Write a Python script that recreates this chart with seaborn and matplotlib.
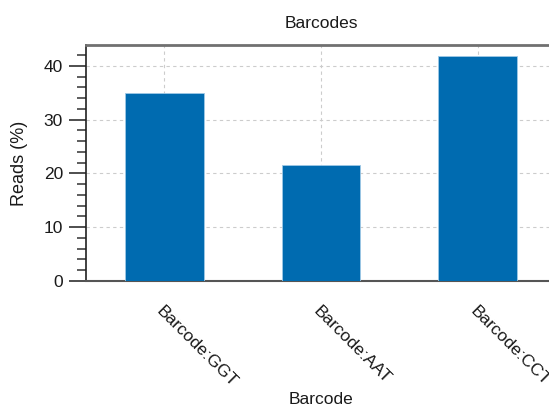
import pandas as pd
import matplotlib.pyplot as plt
import seaborn as sns
from matplotlib.ticker import MultipleLocator

barcodes = ["Barcode:GGT", "Barcode:AAT", "Barcode:CCT"]
reads_pct = [35.0, 21.6, 41.9]

df = pd.DataFrame({"Barcode": barcodes, "Reads (%)": reads_pct})

sns.set_style("white")
plt.rcParams["font.family"] = ["Liberation Sans", "DejaVu Sans"]
plt.rcParams["text.color"] = "#1a1a1a"
plt.rcParams["axes.labelcolor"] = "#1a1a1a"
plt.rcParams["xtick.labelcolor"] = "#1a1a1a"
plt.rcParams["ytick.labelcolor"] = "#1a1a1a"

fig = plt.figure(figsize=(5.49, 4.08), dpi=100)
# axes runs past the right edge of the figure, like the reference
ax = fig.add_axes([86 / 549, 1 - 281 / 408, 470 / 549, 236 / 408])

sns.barplot(data=df, x="Barcode", y="Reads (%)", color="#006bb0", width=0.5,
            saturation=1, edgecolor="#9fc9e6", linewidth=0.6, ax=ax, zorder=3)

ax.set_xlim(-0.5, 2.5)
ax.set_ylim(0, 43.9)
ax.yaxis.set_major_locator(MultipleLocator(10))
ax.yaxis.set_minor_locator(MultipleLocator(2))
ax.grid(True, which="major", linestyle=(0, (3, 3)), color="#cccccc", linewidth=0.8, zorder=0)
ax.set_axisbelow(True)

ax.tick_params(axis="y", which="major", length=12.5, width=1.3, color="#404040",
               left=True, labelsize=12.5, pad=4)
ax.tick_params(axis="y", which="minor", length=6.5, width=1.3, color="#505050", left=True)
ax.tick_params(axis="x", length=0, labelsize=12.5, pad=16)

for lbl in ax.get_xticklabels():
    lbl.set_rotation(-45)
    lbl.set_ha("left")
    lbl.set_va("top")
    lbl.set_rotation_mode("anchor")

for side in ["top", "bottom", "left", "right"]:
    ax.spines[side].set_visible(True)
ax.spines["left"].set_color("#202020")
ax.spines["left"].set_linewidth(1.2)
ax.spines["bottom"].set_color("#555555")
ax.spines["bottom"].set_linewidth(1.5)
ax.spines["top"].set_color("#707070")
ax.spines["top"].set_linewidth(2)

ax.set_title("Barcodes", fontsize=12.5, pad=12)
ax.set_xlabel("Barcode", fontsize=12.5, labelpad=2)
ax.set_ylabel("Reads (%)", fontsize=13, labelpad=11)

fig.savefig("out.png", dpi=100)
